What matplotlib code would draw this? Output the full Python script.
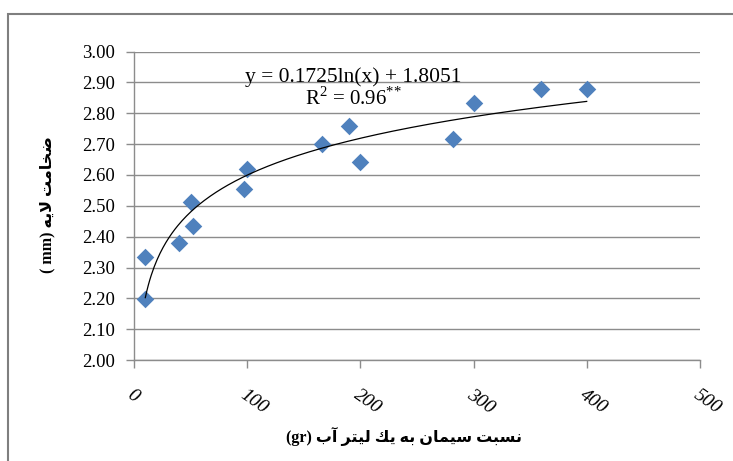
import numpy as np
import matplotlib
matplotlib.use("Agg")
import matplotlib.pyplot as plt
from matplotlib.patches import Rectangle

# data
cement = [10, 10, 40, 50, 52, 97, 100, 166, 190, 200, 282, 300, 360, 400]
thickness = [2.335, 2.197, 2.381, 2.511, 2.435, 2.554, 2.618, 2.699, 2.760,
             2.641, 2.717, 2.835, 2.878, 2.878]
coef_a = 0.1725
coef_b = 1.8051
x_ticks = [0, 100, 200, 300, 400, 500]
y_ticks = [2.0, 2.1, 2.2, 2.3, 2.4, 2.5, 2.6, 2.7, 2.8, 2.9, 3.0]
x_title = "نسبت سيمان به يك ليتر آب"
y_title = "ضخامت لايه"

# small arabic shaper: isolated, final, initial, medial forms
FORMS = {
    'ا': ('\uFE8D', '\uFE8E', None, None),
    'آ': ('\uFE81', '\uFE82', None, None),
    'ب': ('\uFE8F', '\uFE90', '\uFE91', '\uFE92'),
    'ت': ('\uFE95', '\uFE96', '\uFE97', '\uFE98'),
    'خ': ('\uFEA5', '\uFEA6', '\uFEA7', '\uFEA8'),
    'ر': ('\uFEAD', '\uFEAE', None, None),
    'س': ('\uFEB1', '\uFEB2', '\uFEB3', '\uFEB4'),
    'ض': ('\uFEBD', '\uFEBE', '\uFEBF', '\uFEC0'),
    'ك': ('\uFED9', '\uFEDA', '\uFEDB', '\uFEDC'),
    'ل': ('\uFEDD', '\uFEDE', '\uFEDF', '\uFEE0'),
    'م': ('\uFEE1', '\uFEE2', '\uFEE3', '\uFEE4'),
    'ن': ('\uFEE5', '\uFEE6', '\uFEE7', '\uFEE8'),
    'ه': ('\uFEE9', '\uFEEA', '\uFEEB', '\uFEEC'),
    'ي': ('\uFEF1', '\uFEF2', '\uFEF3', '\uFEF4'),
}
LAM_ALEF = ('\uFEFB', '\uFEFC')


def shape(text):
    out = []
    i = 0
    prev_joins = False
    while i < len(text):
        c = text[i]
        if c not in FORMS:
            out.append(c)
            prev_joins = False
            i += 1
            continue
        if c == 'ل' and i + 1 < len(text) and text[i + 1] == 'ا':
            out.append(LAM_ALEF[1 if prev_joins else 0])
            prev_joins = False
            i += 2
            continue
        iso, fin, ini, med = FORMS[c]
        nxt = text[i + 1] if i + 1 < len(text) else ''
        next_joins = ini is not None and nxt in FORMS
        if prev_joins and next_joins:
            g = med
        elif prev_joins:
            g = fin
        elif next_joins:
            g = ini
        else:
            g = iso
        out.append(g)
        prev_joins = ini is not None
        i += 1
    return ''.join(reversed(out))


plt.rcParams['mathtext.fontset'] = 'custom'
plt.rcParams['mathtext.rm'] = 'Liberation Serif'

fig = plt.figure(figsize=(7.33, 4.61), dpi=100)
ax = fig.add_axes([0.1828, 0.219, 0.772, 0.669])

grid_col = '#8c8c8c'
for yv in y_ticks:
    ax.axhline(yv, color=grid_col, lw=1.0, zorder=0)

ax.scatter(cement, thickness, marker='D', s=80, color='#4f81bd', zorder=3,
           linewidths=0)

xs = np.linspace(min(cement), max(cement), 300)
ax.plot(xs, coef_a * np.log(xs) + coef_b, color='black', lw=0.9, zorder=4)

ax.set_xlim(0, 500)
ax.set_ylim(2.0, 3.0)
ax.set_yticks(y_ticks)
ax.set_yticklabels([f"{v:.2f}" for v in y_ticks], fontfamily='Liberation Serif',
                   fontsize=13.5)
ax.set_xticks(x_ticks)
ax.set_xticklabels([str(v) for v in x_ticks], fontfamily='Liberation Serif',
                   fontsize=14, style='italic')
plt.setp(ax.get_xticklabels(), rotation=-35, ha='left', va='top',
         rotation_mode='anchor')
ax.tick_params(axis='y', length=6, width=1, color=grid_col, pad=8)
ax.tick_params(axis='x', length=6, width=1, color=grid_col, pad=13)

for side in ['top', 'right']:
    ax.spines[side].set_visible(False)
for side in ['left', 'bottom']:
    ax.spines[side].set_color(grid_col)
    ax.spines[side].set_linewidth(1.0)

ax.text(194, 2.918, f"y = {coef_a}ln(x) + {coef_b}", ha='center', va='center',
        fontfamily='Liberation Serif', fontsize=15.5)
ax.text(194, 2.847, r"R$^{2}$ = 0.96$^{{*}{*}}$", ha='center', va='center',
        fontfamily='Liberation Serif', fontsize=15)

fig.text(404 / 733, 1 - 436 / 461, "(gr) " + shape(x_title), ha='center',
         va='center', fontsize=11.5, fontweight='bold',
         family=['Liberation Serif', 'DejaVu Sans'])
fig.text(47 / 733, 1 - 205 / 461, "( mm) " + shape(y_title), ha='center',
         va='center', rotation=90, fontsize=11.5, fontweight='bold',
         family=['Liberation Serif', 'DejaVu Sans'])

# outer chart frame
fig.patches.append(Rectangle((8 / 733, -0.1), 1.2, 1 - 14 / 461 + 0.1,
                             transform=fig.transFigure, fill=False,
                             edgecolor='#7f7f7f', lw=1.5))

fig.savefig("out.png", dpi=100)
